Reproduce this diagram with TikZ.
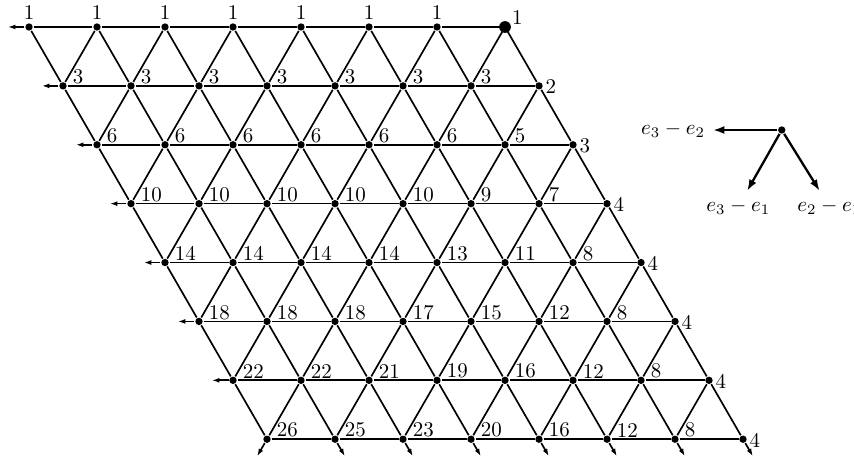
\documentclass[tikz,border=0pt]{standalone}
\usepackage{amsfonts,amssymb,amsmath}
\usepackage{tikz}
\usetikzlibrary{arrows.meta}

\tikzset{
dot/.style={circle,fill,inner sep=0pt,minimum size=3.5pt},
bigdot/.style={circle,fill,inner sep=0pt,minimum size=5.6pt},
toplab/.style={anchor=south,inner sep=3.2pt},
numlab/.style={anchor=south west,inner sep=0pt,xshift=4.3pt,yshift=0.5pt},
endlab/.style={anchor=west,inner sep=2.7pt,yshift=-0.5pt},
apexlab/.style={anchor=south west,inner sep=1pt,xshift=2pt},
}

\begin{document}
\begin{tikzpicture}[x=1.14cm,y=1.14cm,thick,>={Latex[length=3.6pt,width=2.4pt]}]
\useasboundingbox(-0.4265,-6.382)rectangle(12.132,0.397);
\foreach \r in {0,...,7}
\foreach \i in {0,...,7}
\node[dot](p-\r-\i)at({\i+\r/2},{-\r*0.866}){};
\node[bigdot](apex)at(p-0-7){};
\foreach \r in {0,...,7}
\foreach \i [count=\j] in {0,...,6}
\draw(p-\r-\i)--(p-\r-\j);
\foreach \r [count=\s] in {0,...,6}{
\foreach \i in {0,...,7}
\draw(p-\r-\i)--(p-\s-\i);
\foreach \i [count=\j] in {0,...,6}
\draw(p-\r-\j)--(p-\s-\i);
}
\foreach \r in {0,...,6}{
\coordinate(w-\r)at({\r/2-0.31},{-\r*0.866});
\draw[->](p-\r-0)--(w-\r);
}
\coordinate(s-0)at(3.355,-6.312);
\draw[->](p-7-0)--(s-0);
\foreach \i in {1,...,7}{
\coordinate(s-\i)at({\i+3.645},-6.312);
\draw[->](p-7-\i)--(s-\i);
}
\foreach \i in {0,...,6}
\node[toplab](n-0-\i)at(p-0-\i){1};
\node[apexlab](n-0-7)at(p-0-7){1};
\foreach \r/\vals in {1/{3,3,3,3,3,3,3,2},2/{6,6,6,6,6,6,5,3},3/{10,10,10,10,10,9,7,4},4/{14,14,14,14,13,11,8,4},5/{18,18,18,17,15,12,8,4},6/{22,22,21,19,16,12,8,4},7/{26,25,23,20,16,12,8,4}}
\foreach \v [count=\i from 0] in \vals{
\ifnum\i<7 \node[numlab](n-\r-\i)at(p-\r-\i){\v};
\else \node[endlab](n-\r-\i)at(p-\r-\i){\v};\fi
}
%roots
\node[dot](o)at(11.07,-1.515){};
\node(e32)at(9.47,-1.515){$e_3-e_2$};
\node(e31)at(10.43,-2.641){$e_3-e_1$};
\node(e21)at(11.77,-2.641){$e_2-e_1$};
\draw[line width=1.1pt,-{Latex[length=5.5pt,width=3.8pt]}](o)--(e32);
\draw[line width=1.1pt,-{Latex[length=5.5pt,width=3.8pt]}](o)--(e31);
\draw[line width=1.1pt,-{Latex[length=5.5pt,width=3.8pt]}](o)--(e21);
\end{tikzpicture}
\end{document}
